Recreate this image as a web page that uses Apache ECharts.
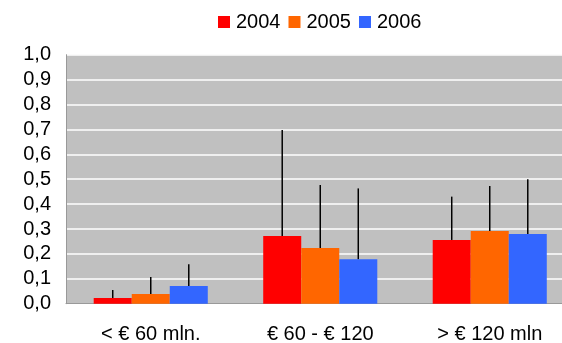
<!DOCTYPE html>
<html>
<head>
<meta charset="utf-8">
<script src="https://cdn.jsdelivr.net/npm/echarts@6/dist/echarts.min.js"></script>
<style>
  html, body { margin: 0; padding: 0; background: #fff; }
  #chart { width: 562px; height: 343px; }
</style>
</head>
<body>
<div id="chart"></div>
<script>
  // categorie e valori
  const categories = ['< € 60 mln.', '€ 60 - € 120', '> € 120 mln']
  const years = ['2004', '2005', '2006']
  const colors = ['#ff0000', '#ff6600', '#3366ff']
  const values2004 = [0.023, 0.272, 0.256]
  const values2005 = [0.039, 0.224, 0.292]
  const values2006 = [0.071, 0.179, 0.280]
  const errTop2004 = [0.055, 0.698, 0.430]
  const errTop2005 = [0.107, 0.477, 0.473]
  const errTop2006 = [0.158, 0.463, 0.500]

  const values = [values2004, values2005, values2006]
  const errTops = [errTop2004, errTop2005, errTop2006]
  const catGap = 0.327
  const font = 'Liberation Sans'

  const series = years.map((y, i) => ({
    name: y,
    type: 'bar',
    data: values[i],
    barGap: '0%',
    barCategoryGap: (catGap * 100) + '%',
    itemStyle: { color: colors[i] },
    z: 2
  }))

  // barre di errore (solo linea verso l'alto)
  years.forEach((y, s) => {
    series.push({
      type: 'custom',
      name: 'err' + y,
      z: 5,
      silent: true,
      clip: false,
      data: categories.map((c, k) => [k, values[s][k], errTops[s][k]]),
      renderItem(params, api) {
        const k = api.value(0)
        const p0 = api.coord([k, api.value(1)])
        const p1 = api.coord([k, api.value(2)])
        const band = api.size([1, 0])[0]
        const bw = band * (1 - catGap) / 3
        const x = p0[0] + (s - 1) * bw
        return {
          type: 'line',
          shape: { x1: x, y1: p0[1], x2: x, y2: p1[1] },
          style: { stroke: '#000', lineWidth: 1.5 }
        }
      }
    })
  })

  const option = {
    animation: false,
    textStyle: { fontFamily: font },
    legend: {
      data: years,
      left: 218,
      top: 12,
      padding: 0,
      itemWidth: 12,
      itemHeight: 12,
      itemGap: 8,
      icon: 'rect',
      textStyle: { fontFamily: font, fontSize: 20, color: '#000', padding: [0, 0, 0, 1] }
    },
    grid: {
      left: 66,
      width: 508.5,
      top: 54.7,
      height: 249,
      containLabel: false,
      outerBoundsMode: 'none',
      show: true,
      backgroundColor: '#c0c0c0',
      borderWidth: 0
    },
    xAxis: {
      type: 'category',
      data: categories,
      axisTick: { show: false },
      axisLine: { show: true, lineStyle: { color: '#999', width: 1 } },
      axisLabel: { fontFamily: font, fontSize: 20, color: '#000', margin: 21 }
    },
    yAxis: {
      type: 'value',
      min: 0,
      max: 1,
      interval: 0.1,
      axisLine: { show: true, lineStyle: { color: '#999', width: 1 } },
      axisTick: { show: false },
      splitLine: { show: true, lineStyle: { color: '#ffffff', width: 1.5 } },
      axisLabel: {
        fontFamily: font, fontSize: 20, color: '#000', margin: 15,
        formatter: v => v.toFixed(1).replace('.', ',')
      }
    },
    series: series
  }

  const myChart = echarts.init(document.getElementById('chart'))
  myChart.setOption(option, true)
</script>
</body>
</html>
